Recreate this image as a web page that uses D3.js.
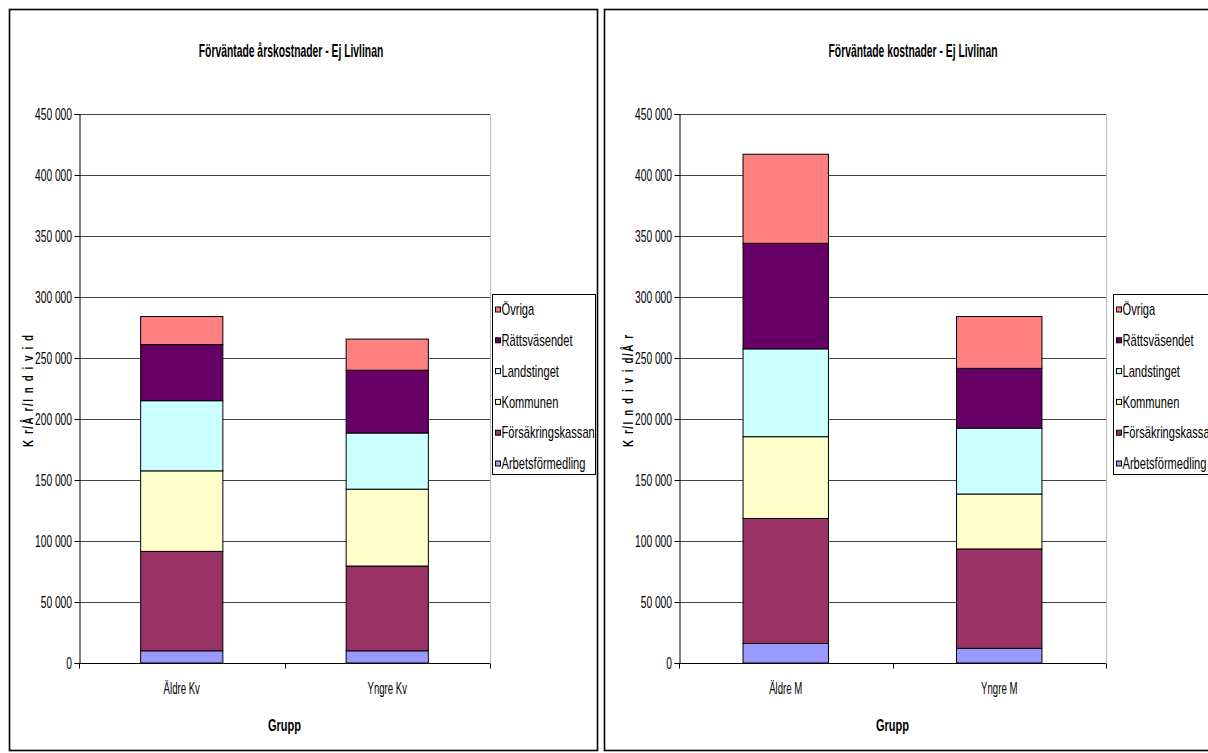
<!DOCTYPE html>
<html><head><meta charset="utf-8">
<script src="https://cdn.jsdelivr.net/npm/d3@7"></script>
<style>body{margin:0;background:#fff} svg{display:block}</style>
</head><body>
<svg id="c" width="1208" height="753"></svg>
<script>
// ---- data ----
const series = ["Arbetsförmedling","Försäkringskassan","Kommunen","Landstinget","Rättsväsendet","Övriga"];
const colors = ["#9999FF","#993366","#FFFFCC","#CCFFFF","#660066","#FF8080"];
const yTicks = [0,50000,100000,150000,200000,250000,300000,350000,400000,450000];
const catsKv = ["Äldre Kv","Yngre Kv"];
const aldreKv = [10000,81500,66000,57500,46000,23000];
const yngreKv = [10000,69500,63000,46000,51500,25500];
const catsM = ["Äldre M","Yngre M"];
const aldreM = [16000,102500,67000,72000,86500,73000];
const yngreM = [12000,81500,45000,54000,49000,42500];
const titleKv = "Förväntade årskostnader - Ej Livlinan";
const titleM = "Förväntade kostnader - Ej Livlinan";
const yTitleKv = "K r/Å r/I n d i v i d";
const yTitleM = "K r/I n d i v i d/Å r";
const xTitle = "Grupp";

const FONT = "'Liberation Sans',Arial,sans-serif";
const svg = d3.select("#c");
const fmt = v => d3.format(",")(v).replace(/,/g," ");

function txt(p, x, y, s, size, sx, o={}){
  const t = p.append("text")
    .attr("transform", `translate(${x},${y})${o.rot?` rotate(${o.rot})`:""} scale(${sx},1)`)
    .attr("font-family",FONT).attr("font-size",size).attr("fill","#000")
    .attr("text-anchor",o.anchor||"start")
    .attr("font-weight",o.bold?"bold":"normal").text(s);
  if(o.dy) t.attr("dy",o.dy);
  if(o.len) t.attr("textLength",o.len).attr("lengthAdjust","spacing");
  return t;
}

function panel(opt){
  const g = svg.append("g");
  g.append("rect").attr("x",opt.bx).attr("y",9.5).attr("width",opt.bw).attr("height",741)
    .attr("fill","#fff").attr("stroke","#000").attr("stroke-width",1.6);
  const x = d3.scaleBand().domain(opt.cats).range([opt.x0,opt.x1]).paddingInner(0.6).paddingOuter(0.3);
  const y = d3.scaleLinear().domain([0,450000]).range([663,114]);
  g.append("line").attr("x1",opt.x1+0.5).attr("x2",opt.x1+0.5).attr("y1",114).attr("y2",663).attr("stroke","#bbb");
  g.append("g").selectAll("line").data(yTicks.filter(d=>d>0)).join("line")
    .attr("x1",opt.x0).attr("x2",opt.x1).attr("y1",d=>Math.round(y(d))+0.5).attr("y2",d=>Math.round(y(d))+0.5)
    .attr("stroke","#444").attr("stroke-width",1);
  const rows = opt.cats.map((c,i)=>{ const o={cat:c}; series.forEach((s,j)=>o[s]=opt.vals[i][j]); return o; });
  const stack = d3.stack().keys(series)(rows);
  stack.forEach((layer,j)=>{
    g.append("g").selectAll("rect").data(layer).join("rect")
      .attr("x",d=>x(d.data.cat)).attr("width",x.bandwidth())
      .attr("y",d=>y(d[1])).attr("height",d=>y(d[0])-y(d[1]))
      .attr("fill",colors[j]).attr("stroke","#000").attr("stroke-width",1);
  });
  // y axis
  const ya = d3.axisLeft(y).tickValues(yTicks).tickFormat("").tickSize(5);
  const yg = g.append("g").attr("transform",`translate(${opt.x0+0.5},0)`).call(ya);
  yg.select(".domain").attr("stroke","#000");
  yg.selectAll(".tick line").attr("stroke","#000");
  yTicks.forEach(v=>txt(g, opt.x0-7, y(v), fmt(v), 16, 0.64, {anchor:"end", dy:"0.36em"}));
  // x axis
  const xg = g.append("g").attr("transform",`translate(0,${663.5})`);
  xg.append("line").attr("x1",opt.x0).attr("x2",opt.x1).attr("stroke","#000");
  const xt = [opt.x0, (opt.x0+opt.x1)/2, opt.x1];
  xg.selectAll(".tk").data(xt).join("line").attr("class","tk")
    .attr("x1",d=>Math.round(d)+0.5).attr("x2",d=>Math.round(d)+0.5).attr("y1",0).attr("y2",5).attr("stroke","#000");
  opt.cats.forEach(c=>txt(g, x(c)+x.bandwidth()/2, 694, c, 16, 0.6, {anchor:"middle"}));
  // titles
  txt(g, opt.tx, 57, opt.title, 18, 0.575, {anchor:"middle", bold:true});
  txt(g, (opt.x0+opt.x1)/2, 731, xTitle, 16, 0.69, {anchor:"middle", bold:true});
  txt(g, opt.ytx, 391, opt.ytitle, 14, 0.7, {anchor:"middle", bold:true, rot:-90, len:160});
  // legend
  const lg = g.append("g");
  lg.append("rect").attr("x",opt.lx+0.5).attr("y",294.5).attr("width",opt.lw).attr("height",180)
    .attr("fill","#fff").attr("stroke","#000");
  const order = series.map((s,i)=>i).reverse();
  order.forEach((si,k)=>{
    const cy = 309.5 + k*30.8;
    lg.append("rect").attr("x",opt.lx+3.5).attr("y",cy-2.5).attr("width",5).attr("height",5)
      .attr("fill",colors[si]).attr("stroke","#000").attr("stroke-width",1);
    txt(lg, opt.lx+9.5, cy, series[si], 16, 0.695, {dy:"0.36em"});
  });
}

panel({bx:9.5,bw:588,x0:79,x1:490,cats:catsKv,vals:[aldreKv,yngreKv],title:titleKv,tx:291,ytitle:yTitleKv,ytx:33,lx:492,lw:103});
panel({bx:604.5,bw:640,x0:679,x1:1106,cats:catsM,vals:[aldreM,yngreM],title:titleM,tx:913,ytitle:yTitleM,ytx:633,lx:1113,lw:110});
</script>
</body></html>
